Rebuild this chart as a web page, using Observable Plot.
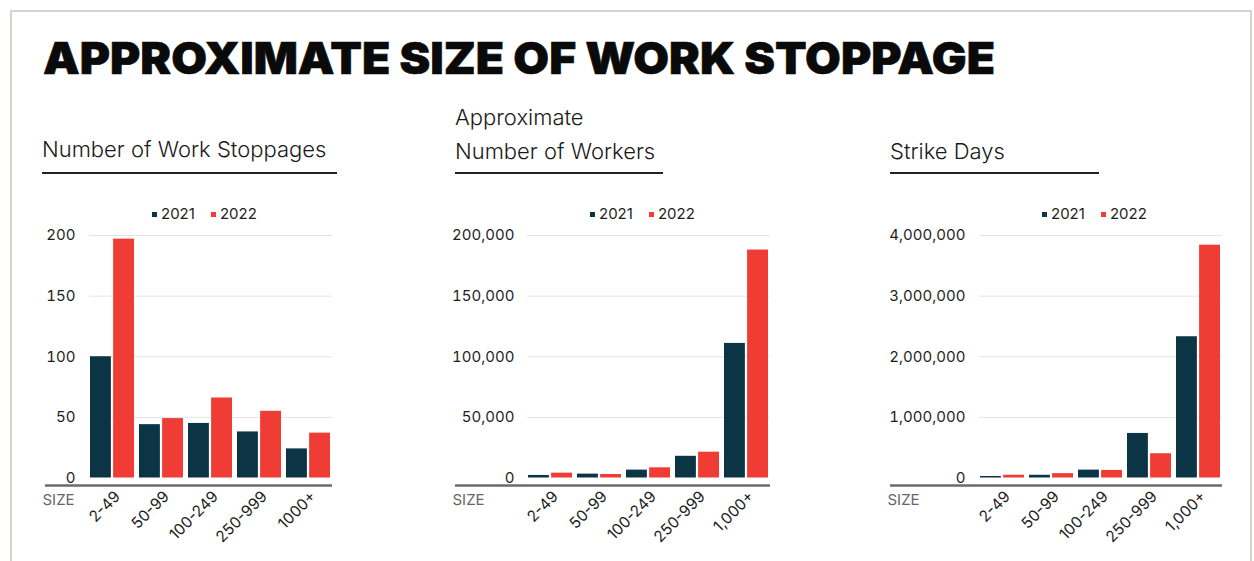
<!DOCTYPE html>
<html><head><meta charset="utf-8">
<script src="https://cdn.jsdelivr.net/npm/d3@7"></script>
<script src="https://cdn.jsdelivr.net/npm/@observablehq/plot@0.6"></script>
<style>
body{margin:0;background:#fff;width:1254px;height:561px;overflow:hidden;position:relative;font-family:Inter,"Liberation Sans",sans-serif}
#frame{position:absolute;left:10px;top:10px;width:1242px;height:620px;border:2px solid #d6d2ce;box-sizing:border-box}
#title{position:absolute;left:43px;top:36px;font-weight:900;font-size:44px;line-height:44px;transform-origin:left top;white-space:nowrap;color:#0a0a0a;margin:0;-webkit-text-stroke:0.6px #0a0a0a}
.sub{position:absolute;font-weight:300;font-size:22px;color:#1a1a1a;line-height:34px;white-space:nowrap}
.rule{position:absolute;height:1.6px;background:#222;top:172px}
.legend{position:absolute;top:206px;font-size:15px;line-height:15px;display:flex;align-items:center;color:#1e1e1e}
.legend .sw{width:5px;height:5px;display:inline-block;margin:2px 4px 0 0}
.legend .it{display:flex;align-items:center;margin-right:16px}
.plot{position:absolute;top:220px}
</style></head>
<body>
<div id="frame"></div>
<h1 id="title">APPROXIMATE SIZE OF WORK STOPPAGE</h1>
<div class="sub" style="left:42px;top:132px">Number of Work Stoppages</div>
<div class="rule" style="left:42px;width:295px"></div>
<div class="sub" style="left:455px;top:100px">Approximate<br>Number of Workers</div>
<div class="rule" style="left:455px;width:208px"></div>
<div class="sub" style="left:890px;top:134px">Strike Days</div>
<div class="rule" style="left:890px;width:209px"></div>
<div id="charts"></div>
<script>
const sizesA = ["2-49","50-99","100-249","250-999","1000+"];
const sizesB = ["2-49","50-99","100-249","250-999","1,000+"];
const years = ["2021","2022"];
const colors = ["#0b3545","#ef3d36"];
const stoppages2021 = [100,44,45,38,24];
const stoppages2022 = [197,49,66,55,37];
const workers2021 = [2100,3200,6500,17900,111000];
const workers2022 = [4000,2900,8400,21300,188000];
const days2021 = [25000,45000,130000,735000,2330000];
const days2022 = [45000,72000,125000,400000,3840000];
const ticks1 = [0,50,100,150,200];
const ticks2 = [0,50000,100000,150000,200000];
const ticks3 = [0,1000000,2000000,3000000,4000000];

const FW = 243; // frame width
function chart({cats, a, b, ticks, fmt, left, marginLeft, lineStart, tickPadding, legendLeft}) {
  const rows = cats.map((c,i)=>({size:c, v2021:a[i], v2022:b[i]}));
  const bw = FW*0.9/4.9;
  const inset = bw/2 + 0.8;
  const p = Plot.plot({
    width: marginLeft + FW, height: 340, marginTop: 15, marginBottom: 82.5, marginLeft, marginRight: 0,
    style: {fontFamily: "Inter, 'Liberation Sans', sans-serif", fontSize: "15px", color: "#1e1e1e", overflow: "visible", background: "transparent"},
    x: {domain: cats, paddingInner: 0.1, paddingOuter: 0, label: null},
    y: {domain: [0, ticks[ticks.length-1]], label: null},
    marks: [
      Plot.gridY(ticks.slice(1), {stroke: "#e4e4e4", strokeOpacity: 1}),
      Plot.barY(rows, {x: "size", y: "v2021", fill: colors[0], insetRight: inset}),
      Plot.barY(rows, {x: "size", y: "v2022", fill: colors[1], insetLeft: inset}),
      Plot.ruleY([0], {dy: 7.5, insetLeft: -(marginLeft + left - lineStart), stroke: "#6b6b6b", strokeWidth: 2.4}),
      Plot.axisY({ticks, tickSize: 0, tickPadding, tickFormat: fmt, fontSize: 15, fill: "#1e1e1e"}),
      Plot.axisX({tickSize: 0, tickRotate: -45, tickPadding: 16, dx: 5, fontSize: 15.5, fill: "#1e1e1e"}),
      Plot.text(["SIZE"], {text: d => d, frameAnchor: "bottom-left", dx: -(marginLeft + left - lineStart) - 3, dy: 27, fill: "#666", textAnchor: "start", fontSize: 15})
    ]
  });
  p.classList.add("plot");
  p.style.left = left + "px";
  document.getElementById("charts").appendChild(p);
  const lg = document.createElement("div");
  lg.className = "legend";
  lg.style.left = legendLeft + "px";
  years.forEach((y,i)=>{
    const it = document.createElement("span"); it.className = "it";
    const sw = document.createElement("span"); sw.className = "sw"; sw.style.background = colors[i];
    it.appendChild(sw); it.appendChild(document.createTextNode(y));
    lg.appendChild(it);
  });
  document.body.appendChild(lg);
}
chart({cats: sizesA, a: stoppages2021, b: stoppages2022, ticks: ticks1, fmt: d3.format("d"), left: 0, marginLeft: 89, lineStart: 45, tickPadding: 14, legendLeft: 152});
chart({cats: sizesB, a: workers2021, b: workers2022, ticks: ticks2, fmt: d3.format(","), left: 440, marginLeft: 87, lineStart: 455, tickPadding: 13, legendLeft: 590});
chart({cats: sizesB, a: days2021, b: days2022, ticks: ticks3, fmt: d3.format(","), left: 880, marginLeft: 99, lineStart: 890, tickPadding: 14, legendLeft: 1042});

const t = document.getElementById("title");
const w = t.getBoundingClientRect().width;
t.style.transform = `scaleX(${952 / w})`;
</script>
</body></html>
